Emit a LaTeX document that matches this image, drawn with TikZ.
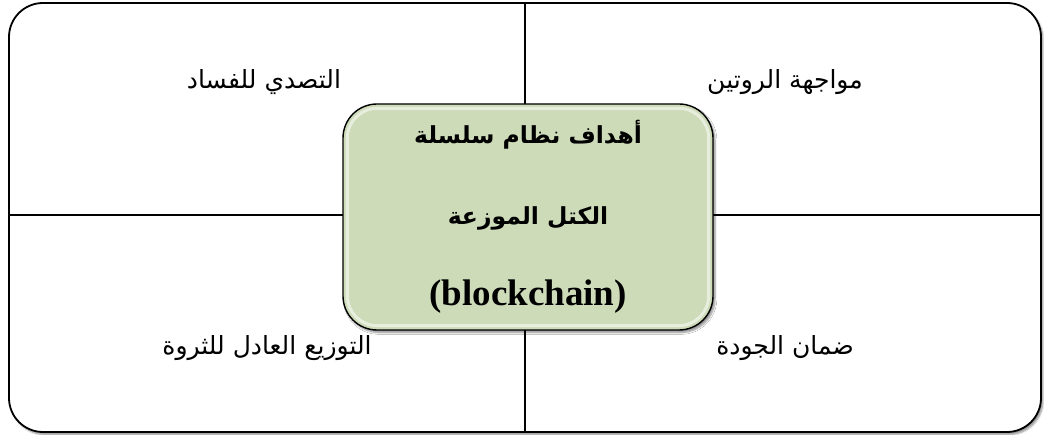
\documentclass[tikz,border=0pt]{standalone}
\usepackage{fontspec}
\setmainfont{Liberation Serif}
\newfontfamily\arabicfont[Script=Arabic]{DejaVu Sans}
\TeXXeTstate=1
\usetikzlibrary{shadows.blur}
\definecolor{boxgreen}{HTML}{CDDBB8}
\tikzset{
  frameline/.style={line width=1.8pt, draw=black},
  label/.style={font=\arabicfont\fontsize{25}{30}\selectfont, inner sep=0pt},
  softshadow/.style={blur shadow={shadow xshift=2pt, shadow yshift=-2.5pt, shadow blur steps=6, shadow opacity=45}}
}
\begin{document}
\begin{tikzpicture}[x=1pt,y=1pt]
\useasboundingbox (0,0) rectangle (1044,435);
\node[frameline, rounded corners=34pt, minimum width=1032pt, minimum height=429pt, inner sep=0pt, fill=white, softshadow] (frame) at (525,217.5) {};
\coordinate (hl) at (9,220);
\coordinate (hr) at (1041,220);
\draw[frameline] (frame.north) -- (frame.south);
\draw[frameline] (hl) -- (hr);
\node[label] (tl) at (264,353) {\beginR التصدي للفساد\endR};
\node[label] (tr) at (785,353) {\beginR مواجهة الروتين\endR};
\node[label] (bl) at (267,87) {\beginR التوزيع العادل للثروة\endR};
\node[label] (br) at (785,87) {\beginR ضمان الجودة\endR};
\node[draw=black, line width=1.4pt, rounded corners=34pt, fill=boxgreen, minimum width=370pt, minimum height=226pt, inner sep=0pt, softshadow, align=center, font=\arabicfont\bfseries\fontsize{23.5}{81}\selectfont] (goal) at (528,218)
  {\beginR أهداف نظام سلسلة\endR\\ \beginR الكتل الموزعة\endR\\ {\rmfamily\bfseries\fontsize{37}{81}\selectfont (blockchain)}};
\draw[white, opacity=0.55, line width=3pt, rounded corners=30pt] ([shift={(5pt,5pt)}]goal.south west) rectangle ([shift={(-5pt,-5pt)}]goal.north east);
\end{tikzpicture}
\end{document}
